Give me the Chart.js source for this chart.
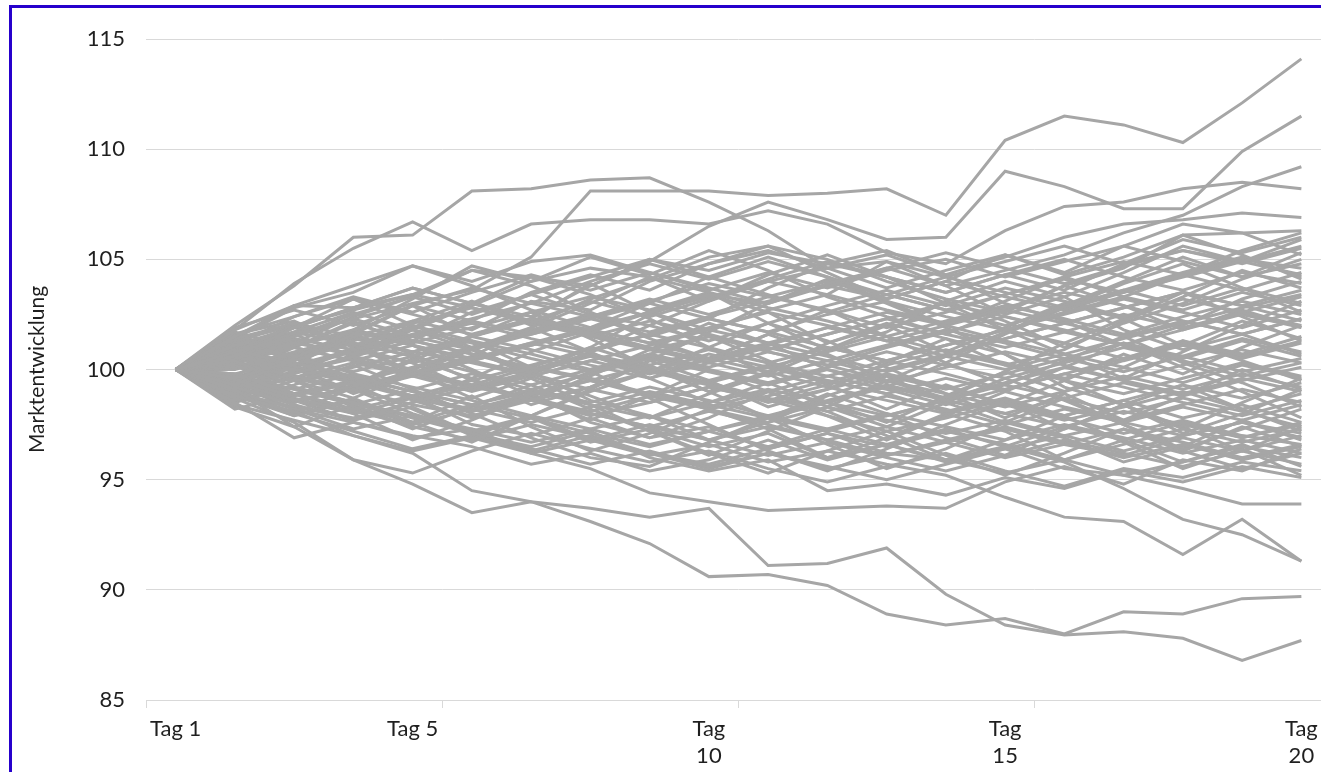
<!DOCTYPE html>
<html lang="de">
<head>
<meta charset="utf-8">
<title>Marktentwicklung</title>
<script src="https://cdn.jsdelivr.net/npm/chart.js@4"></script>
<style>
  html, body { margin: 0; padding: 0; overflow: hidden; background: #fff; }
  #wrap { position: relative; width: 1331px; height: 772px; }
  #rahmen { position: absolute; left: 9px; top: 5px; width: 2000px; height: 2000px;
            border-left: 3px solid #2600cc; border-top: 3px solid #2600cc; pointer-events: none; }
</style>
</head>
<body>
<div id="wrap">
  <canvas id="chart" width="1331" height="772"></canvas>
  <div id="rahmen"></div>
</div>
<script>
const tage = ['Tag 1', 'Tag 2', 'Tag 3', 'Tag 4', 'Tag 5', 'Tag 6', 'Tag 7', 'Tag 8', 'Tag 9', 'Tag 10',
              'Tag 11', 'Tag 12', 'Tag 13', 'Tag 14', 'Tag 15', 'Tag 16', 'Tag 17', 'Tag 18', 'Tag 19', 'Tag 20'];
// only these days get a label on the x axis
const beschriftet = [0, 4, 9, 14, 19];
const beschriftung = [['Tag 1'], ['Tag 5'], ['Tag', '10'], ['Tag', '15'], ['Tag', '20']];
const yMin = 85, yMax = 115, yStep = 5;

// outer paths
const pfad01 = [100, 100.8, 101.5, 102.3, 103.0, 103.6, 105.1, 108.1, 108.1, 108.1, 107.9, 108.0, 108.2, 107.0, 110.4, 111.5, 111.1, 110.3, 112.1, 114.1];
const pfad02 = [100, 102.0, 103.8, 106.0, 106.1, 108.1, 108.2, 108.6, 108.7, 107.6, 106.3, 104.6, 104.9, 104.2, 104.9, 105.6, 104.8, 105.9, 105.3, 106.0];
const pfad03 = [100, 101.8, 103.9, 105.5, 106.7, 105.4, 106.6, 106.8, 106.8, 106.6, 107.2, 106.6, 105.3, 104.8, 106.3, 107.4, 107.6, 108.2, 108.5, 108.2];
const pfad04 = [100, 100.6, 101.9, 102.8, 103.4, 104.5, 104.2, 103.8, 104.9, 106.5, 107.6, 106.8, 105.9, 106.0, 109.0, 108.3, 107.3, 107.3, 109.9, 111.5];
const pfad05 = [100, 99.6, 100.4, 101.2, 100.6, 101.5, 102.3, 101.8, 102.6, 103.4, 103.0, 103.9, 104.6, 103.8, 104.5, 105.2, 106.2, 107.0, 108.3, 109.2];
const pfad06 = [100, 100.9, 100.2, 101.6, 102.9, 102.2, 103.5, 104.3, 103.6, 104.8, 105.4, 104.6, 105.2, 104.3, 105.1, 106.0, 106.6, 106.8, 107.1, 106.9];
const pfad07 = [100, 99.3, 100.5, 101.8, 103.2, 104.7, 104.0, 104.6, 104.2, 103.1, 104.0, 104.6, 103.7, 104.5, 105.2, 104.4, 105.6, 106.6, 106.2, 106.3];
const pfad08 = [100, 101.5, 102.9, 102.8, 103.7, 103.0, 102.4, 103.8, 105.0, 104.5, 105.3, 104.8, 104.2, 103.5, 104.3, 103.6, 104.8, 105.4, 104.9, 105.6];
const pfad09 = [100, 101.1, 101.9, 103.2, 102.5, 101.8, 103.1, 102.7, 104.0, 104.8, 105.6, 105.0, 104.0, 103.2, 102.6, 103.8, 104.6, 106.1, 106.2, 105.2];
const pfad10 = [100, 99.1, 97.4, 95.9, 94.8, 93.5, 94.0, 93.1, 92.1, 90.6, 90.7, 90.2, 88.9, 88.4, 88.7, 88.0, 89.0, 88.9, 89.6, 89.7];
const pfad11 = [100, 98.8, 98.1, 97.0, 96.2, 94.5, 94.0, 93.7, 93.3, 93.7, 91.1, 91.2, 91.9, 89.8, 88.4, 87.95, 88.1, 87.8, 86.8, 87.7];
const pfad12 = [100, 99.0, 98.2, 97.6, 96.9, 97.3, 96.2, 95.5, 94.4, 94.0, 93.6, 93.7, 93.8, 93.7, 94.9, 95.6, 94.8, 95.9, 95.4, 96.4];
const pfad13 = [100, 99.4, 98.6, 99.1, 98.0, 97.2, 97.9, 96.8, 96.1, 96.6, 95.8, 96.3, 95.7, 95.2, 94.2, 93.3, 93.1, 91.6, 93.2, 91.3];
const pfad14 = [100, 99.8, 98.9, 98.2, 98.8, 97.5, 97.0, 97.8, 96.9, 97.4, 96.4, 97.1, 96.2, 95.9, 96.5, 95.8, 94.6, 93.2, 92.5, 91.3];
const pfad15 = [100, 100.4, 99.2, 98.5, 97.6, 98.4, 97.8, 96.7, 97.3, 96.5, 97.1, 96.0, 96.6, 95.8, 96.4, 95.5, 95.2, 94.6, 93.9, 93.9];
const pfad16 = [100, 98.5, 96.9, 97.6, 97.0, 96.5, 95.7, 96.2, 95.4, 95.9, 96.8, 95.9, 96.6, 97.3, 96.5, 97.4, 96.8, 97.6, 96.9, 97.5];
const pfad17 = [100, 98.7, 97.6, 95.9, 95.3, 96.3, 97.1, 96.4, 95.8, 96.3, 95.5, 94.9, 95.6, 96.2, 95.4, 94.7, 95.5, 95.1, 95.8, 95.4];
const pfad18 = [100, 99.2, 98.4, 97.7, 98.3, 97.1, 96.5, 97.2, 96.0, 95.4, 95.9, 94.5, 94.8, 94.3, 95.1, 94.6, 95.4, 94.9, 95.6, 95.1];

// paths inside the main band
const pfad19 = [100, 100.5, 101.2, 100.7, 101.5, 102.1, 101.4, 100.8, 101.6, 102.3, 101.7, 102.5, 103.1, 102.4, 101.8, 102.6, 103.3, 102.7, 103.5, 102.9];
const pfad20 = [100, 99.5, 98.8, 99.4, 98.7, 99.3, 100.1, 99.6, 98.9, 98.2, 98.8, 99.5, 98.9, 98.1, 98.7, 97.9, 98.6, 97.8, 98.4, 97.6];
const pfad21 = [100, 100.9, 101.6, 102.3, 101.5, 100.9, 101.7, 102.4, 103.2, 102.5, 103.3, 102.7, 101.9, 102.6, 103.4, 104.1, 103.5, 104.3, 103.6, 104.4];
const pfad22 = [100, 99.2, 99.8, 100.6, 100.0, 99.3, 98.6, 99.2, 99.9, 100.7, 100.1, 99.4, 100.2, 100.9, 100.3, 99.6, 100.4, 101.1, 100.5, 101.2];
const pfad23 = [100, 100.3, 99.7, 99.1, 99.8, 100.5, 101.2, 100.6, 99.9, 99.3, 98.5, 99.1, 99.8, 99.2, 98.4, 97.7, 98.3, 99.0, 98.2, 98.9];
const pfad24 = [100, 101.2, 100.6, 101.3, 102.1, 102.8, 102.2, 101.6, 100.9, 101.5, 100.8, 100.2, 101.0, 101.7, 102.4, 101.8, 101.1, 100.5, 101.3, 100.6];
const pfad25 = [100, 98.9, 98.3, 97.8, 98.5, 99.2, 98.7, 98.0, 97.4, 98.1, 97.5, 96.8, 97.4, 96.7, 97.3, 96.6, 96.1, 96.9, 96.3, 97.0];
const pfad26 = [100, 100.7, 101.4, 100.9, 100.3, 101.0, 101.8, 102.5, 102.0, 101.3, 102.1, 102.9, 103.6, 102.9, 103.7, 103.1, 102.4, 103.2, 102.6, 103.3];
const pfad27 = [100, 99.6, 100.3, 99.7, 99.0, 98.4, 99.1, 99.8, 100.5, 99.9, 99.3, 100.0, 99.4, 100.1, 100.8, 100.2, 99.5, 98.9, 99.6, 99.0];
const pfad28 = [100, 100.2, 99.5, 100.1, 100.8, 100.3, 99.7, 100.4, 101.1, 101.8, 101.2, 100.6, 99.9, 100.6, 101.4, 102.1, 101.5, 102.2, 101.6, 102.3];
const pfad29 = [100, 99.0, 99.7, 99.1, 98.4, 97.9, 98.6, 97.9, 98.5, 99.2, 98.6, 97.9, 97.2, 97.8, 98.5, 97.8, 97.1, 97.7, 97.0, 96.6];
const pfad30 = [100, 101.0, 101.7, 101.1, 101.8, 101.2, 100.5, 99.9, 100.6, 100.0, 99.4, 100.1, 100.8, 100.2, 99.6, 100.3, 101.0, 100.4, 99.7, 100.3];
const pfad31 = [100, 100.6, 100.0, 99.4, 100.1, 100.9, 101.6, 102.3, 101.7, 102.4, 103.1, 103.8, 103.2, 104.0, 103.3, 102.7, 103.5, 104.2, 104.9, 104.3];
const pfad32 = [100, 99.4, 98.7, 98.1, 97.5, 98.2, 98.9, 99.5, 98.9, 98.3, 99.0, 99.7, 99.1, 98.4, 99.1, 99.8, 99.2, 98.5, 97.9, 98.6];
const pfad33 = [100, 100.1, 100.8, 101.5, 102.2, 101.6, 102.3, 101.7, 101.0, 100.4, 101.1, 101.9, 101.3, 100.6, 100.0, 100.7, 100.1, 99.4, 100.2, 99.6];
const pfad34 = [100, 99.7, 99.1, 99.8, 99.2, 98.6, 97.9, 97.3, 97.9, 97.2, 97.8, 98.5, 99.2, 98.6, 98.0, 98.7, 99.4, 98.8, 99.5, 100.1];
const pfad35 = [100, 101.4, 102.1, 101.5, 100.8, 101.5, 100.9, 100.2, 99.6, 100.3, 101.0, 100.4, 99.7, 99.1, 99.8, 100.5, 99.9, 100.6, 101.4, 100.8];
const pfad36 = [100, 100.4, 101.1, 101.8, 101.2, 101.9, 102.6, 103.3, 102.7, 103.5, 102.8, 102.2, 101.5, 102.2, 102.9, 102.3, 101.6, 102.4, 103.1, 102.5];
const pfad37 = [100, 99.3, 99.9, 100.6, 101.3, 100.7, 100.1, 99.5, 98.8, 98.2, 97.6, 98.3, 97.7, 97.1, 97.7, 97.0, 97.6, 98.3, 97.7, 98.4];
const pfad38 = [100, 99.8, 100.5, 99.9, 100.6, 101.3, 100.7, 100.0, 100.7, 101.5, 100.9, 101.6, 102.3, 101.6, 101.0, 101.7, 102.5, 101.9, 102.6, 102.0];
const pfad39 = [100, 98.6, 99.2, 98.5, 97.9, 97.3, 96.7, 97.3, 96.6, 97.2, 97.9, 97.3, 98.0, 97.4, 96.8, 97.5, 96.9, 96.2, 96.8, 96.2];
const pfad40 = [100, 100.8, 100.1, 99.5, 98.8, 99.5, 100.2, 100.9, 101.6, 101.0, 100.3, 99.7, 100.4, 99.8, 99.1, 99.8, 100.5, 101.2, 100.6, 101.3];
const pfad41 = [100, 101.7, 101.0, 100.4, 101.1, 100.5, 101.2, 101.9, 102.6, 103.3, 104.0, 103.4, 102.7, 102.1, 102.8, 103.5, 102.9, 102.2, 101.6, 102.3];
const pfad42 = [100, 99.1, 98.5, 99.2, 99.9, 99.3, 98.7, 98.1, 98.8, 99.5, 100.2, 99.5, 98.9, 99.6, 99.0, 98.3, 97.7, 98.4, 99.1, 98.5];
const pfad43 = [100, 100.5, 99.9, 100.5, 99.8, 99.2, 99.9, 100.6, 100.0, 99.4, 98.7, 98.1, 98.8, 98.2, 97.5, 98.2, 97.6, 97.0, 97.6, 97.1];
const pfad44 = [100, 100.0, 100.7, 101.4, 100.8, 101.5, 102.2, 101.5, 100.9, 100.3, 99.7, 100.4, 101.1, 101.8, 101.2, 100.5, 101.2, 100.6, 99.9, 100.5];
const pfad45 = [100, 99.5, 100.2, 100.9, 101.6, 102.3, 103.0, 102.4, 103.1, 103.9, 103.3, 104.0, 103.4, 102.7, 103.4, 104.2, 104.9, 104.3, 105.0, 104.6];
const pfad46 = [100, 100.9, 100.3, 99.6, 99.0, 98.4, 99.0, 98.4, 97.8, 98.5, 99.1, 98.5, 97.9, 98.6, 99.3, 98.7, 98.0, 98.7, 98.1, 97.4];
const pfad47 = [100, 99.2, 98.6, 98.0, 98.7, 98.1, 98.8, 99.5, 100.2, 100.9, 100.3, 101.0, 100.4, 101.1, 101.8, 101.2, 100.5, 101.3, 100.7, 101.5];
const pfad48 = [100, 100.6, 101.3, 100.6, 101.3, 100.7, 100.0, 100.7, 100.1, 99.4, 100.1, 100.8, 101.5, 100.8, 100.2, 99.5, 98.9, 99.6, 100.3, 99.7];
const pfad49 = [100, 99.6, 98.9, 99.5, 98.8, 98.1, 98.7, 98.0, 97.4, 96.8, 97.4, 96.8, 96.1, 96.7, 96.0, 96.6, 97.3, 96.7, 96.0, 96.6];
const pfad50 = [100, 101.3, 102.0, 102.7, 103.4, 102.8, 102.1, 101.5, 102.2, 101.6, 100.9, 101.6, 102.3, 103.0, 102.4, 101.7, 101.1, 101.8, 102.5, 101.9];
const pfad51 = [100, 100.3, 101.0, 100.4, 99.7, 100.4, 99.8, 99.1, 98.5, 99.2, 98.6, 99.3, 100.0, 100.7, 101.4, 102.1, 102.8, 103.5, 102.9, 103.6];
const pfad52 = [100, 99.0, 99.6, 100.3, 99.7, 99.0, 99.7, 100.4, 99.8, 100.5, 99.9, 99.2, 98.6, 98.0, 98.6, 97.9, 98.6, 99.3, 98.7, 99.4];
const pfad53 = [100, 100.7, 100.1, 100.8, 101.5, 102.2, 101.6, 102.3, 103.0, 102.3, 101.7, 101.0, 100.4, 101.1, 101.8, 102.5, 103.2, 102.6, 101.9, 102.7];
const pfad54 = [100, 99.4, 100.1, 99.5, 98.8, 98.2, 97.6, 98.3, 99.0, 98.4, 97.8, 97.2, 97.9, 98.6, 98.0, 97.4, 98.1, 97.5, 96.9, 97.6];
const pfad55 = [100, 100.2, 99.6, 99.0, 99.7, 100.4, 101.1, 101.8, 101.2, 100.5, 101.2, 101.9, 102.6, 102.0, 101.3, 100.7, 101.4, 102.1, 102.8, 103.4];
const pfad56 = [100, 101.1, 100.5, 101.2, 100.6, 99.9, 99.3, 100.0, 100.7, 100.1, 100.8, 100.2, 99.5, 98.9, 98.3, 99.0, 99.7, 99.1, 99.8, 99.2];
const pfad57 = [100, 99.7, 99.1, 98.4, 99.1, 99.8, 99.1, 98.5, 99.2, 98.6, 97.9, 98.6, 99.3, 98.7, 99.4, 100.1, 99.5, 100.2, 100.9, 100.3];
const pfad58 = [100, 100.4, 101.1, 101.7, 101.1, 100.4, 101.1, 101.8, 101.2, 101.9, 102.6, 102.0, 101.3, 102.0, 102.7, 102.1, 102.8, 103.5, 102.9, 102.2];
const pfad59 = [100, 101.6, 102.4, 103.3, 102.6, 103.5, 104.3, 103.6, 104.4, 103.7, 103.0, 103.8, 104.6, 105.3, 104.6, 103.9, 104.7, 105.4, 104.8, 105.5];
const pfad60 = [100, 98.4, 97.7, 97.0, 96.3, 96.9, 96.2, 96.8, 97.5, 96.8, 96.1, 96.7, 96.0, 95.4, 96.1, 96.8, 96.2, 95.6, 96.3, 95.7];
const pfad61 = [100, 101.9, 102.7, 102.0, 102.9, 103.7, 103.0, 104.0, 104.8, 104.1, 104.9, 104.2, 103.4, 104.2, 103.5, 102.8, 103.6, 104.4, 105.1, 104.2];
const pfad62 = [100, 98.2, 98.9, 98.2, 97.4, 96.8, 97.5, 96.9, 96.2, 95.7, 96.4, 97.1, 96.5, 97.2, 96.6, 95.9, 96.6, 97.3, 96.7, 97.3];
const pfad63 = [100, 100.8, 101.9, 102.8, 103.7, 103.0, 102.2, 103.1, 102.4, 103.2, 104.1, 104.9, 104.2, 103.5, 104.3, 105.0, 104.2, 103.6, 104.4, 103.9];
const pfad64 = [100, 99.3, 98.2, 97.3, 97.9, 97.1, 96.4, 95.7, 96.3, 95.6, 96.2, 95.5, 96.1, 96.8, 97.4, 96.7, 96.0, 96.6, 95.9, 96.5];
const pfad65 = [100, 101.4, 102.8, 103.5, 104.7, 104.0, 104.9, 105.2, 104.4, 103.6, 104.4, 103.7, 104.5, 105.0, 104.2, 104.9, 105.6, 104.9, 104.2, 104.8];
const pfad66 = [100, 98.8, 97.9, 98.6, 97.8, 97.1, 97.8, 97.1, 96.5, 97.2, 96.5, 97.3, 96.6, 95.9, 95.3, 95.9, 95.2, 95.8, 96.5, 96.0];
const pfad67 = [100, 100.6, 101.5, 102.5, 103.3, 102.5, 103.4, 104.2, 105.0, 104.2, 103.4, 102.6, 103.4, 102.7, 102.0, 102.8, 103.6, 102.9, 103.7, 103.0];
const pfad68 = [100, 99.0, 98.0, 97.2, 96.4, 97.0, 96.3, 97.0, 96.2, 95.5, 96.2, 95.6, 95.0, 95.7, 96.4, 97.0, 96.3, 97.0, 97.6, 96.9];
const pfad69 = [100, 100.4, 99.6, 100.7, 101.9, 103.0, 104.2, 103.4, 102.3, 101.0, 99.8, 98.5, 97.6, 98.8, 99.9, 101.2, 102.3, 103.5, 102.4, 101.3];
const pfad70 = [100, 99.5, 100.6, 99.3, 98.2, 97.0, 97.9, 99.1, 100.4, 101.7, 103.0, 104.1, 103.0, 101.9, 100.7, 99.5, 98.4, 97.3, 98.5, 99.6];
const pfad71 = [100, 100.9, 102.0, 101.1, 99.9, 98.7, 99.6, 98.4, 97.2, 96.1, 97.2, 98.3, 99.5, 100.6, 101.7, 102.9, 104.0, 105.1, 104.2, 105.3];
const pfad72 = [100, 99.1, 98.0, 99.2, 100.4, 101.5, 102.6, 101.4, 100.1, 99.0, 97.8, 96.6, 95.5, 96.4, 97.6, 98.7, 97.5, 96.3, 97.4, 96.5];
const pfad73 = [100, 101.0, 99.9, 100.9, 102.0, 101.0, 99.8, 100.8, 102.0, 103.1, 104.3, 105.2, 104.2, 103.0, 101.8, 100.7, 99.6, 100.8, 102.0, 103.1];
const pfad74 = [100, 99.7, 101.0, 102.2, 101.1, 100.0, 98.8, 97.7, 98.8, 100.0, 99.0, 97.9, 96.8, 97.9, 99.0, 100.1, 101.2, 100.1, 99.0, 97.8];
const pfad75 = [100, 101.3, 100.4, 101.7, 102.9, 101.5, 102.3, 103.9, 102.6, 101.8, 102.7, 103.4, 104.9, 103.8, 102.5, 103.3, 104.4, 105.6, 104.9, 105.9];
const pfad76 = [100, 98.7, 99.5, 98.3, 97.6, 98.8, 97.4, 96.3, 97.1, 98.2, 97.3, 96.0, 96.9, 98.0, 97.2, 95.9, 96.8, 95.8, 96.6, 95.6];
const pfad77 = [100, 100.8, 101.9, 101.1, 99.8, 100.6, 101.9, 103.0, 104.2, 103.5, 102.1, 100.9, 101.7, 103.1, 104.0, 103.3, 101.8, 100.9, 101.6, 100.7];
const pfad78 = [100, 99.4, 98.5, 99.3, 100.5, 99.6, 98.4, 99.2, 100.4, 99.5, 98.3, 99.1, 100.3, 101.4, 100.7, 99.2, 98.4, 97.1, 98.0, 99.1];
const pfad79 = [100, 101.1, 102.4, 103.2, 102.0, 101.3, 100.1, 101.0, 102.5, 103.4, 102.6, 101.2, 102.1, 101.4, 100.2, 100.9, 102.2, 103.3, 104.5, 103.7];
const pfad80 = [100, 98.9, 97.9, 98.7, 99.8, 100.9, 99.9, 98.6, 97.9, 96.8, 97.6, 98.8, 99.7, 98.5, 97.6, 96.9, 95.8, 96.5, 97.7, 96.8];
const pfad81 = [100, 100.3, 101.2, 102.4, 103.3, 104.5, 103.8, 102.6, 101.5, 102.3, 103.7, 104.8, 105.4, 104.3, 103.0, 102.2, 101.1, 102.0, 103.2, 104.0];
const pfad82 = [100, 99.6, 100.7, 99.8, 98.6, 97.8, 98.9, 97.6, 96.9, 97.8, 99.0, 98.1, 97.0, 95.9, 96.8, 97.9, 96.7, 95.5, 96.4, 95.2];
const pfad83 = [100, 101.6, 102.2, 101.0, 100.3, 99.1, 99.8, 101.0, 100.2, 99.0, 99.9, 101.2, 102.0, 100.8, 101.9, 103.0, 102.3, 101.1, 102.2, 101.4];
const pfad84 = [100, 99.0, 99.9, 101.0, 102.2, 103.1, 102.0, 103.2, 104.1, 105.1, 105.6, 104.4, 103.2, 104.0, 105.2, 104.3, 105.1, 106.1, 105.2, 104.1];
const pfad85 = [100, 100.2, 98.9, 98.0, 96.8, 97.7, 98.8, 99.9, 98.7, 97.5, 96.3, 95.4, 96.4, 97.5, 98.5, 97.3, 98.4, 99.3, 98.2, 97.2];
const pfad86 = [100, 101.0, 100.1, 98.9, 99.8, 101.0, 101.9, 100.8, 99.6, 100.5, 101.6, 102.7, 101.5, 100.3, 99.3, 100.4, 101.5, 100.3, 99.4, 98.3];
const pfad87 = [100, 99.3, 100.4, 101.6, 100.7, 99.5, 98.6, 99.7, 100.9, 102.1, 101.2, 100.0, 99.2, 100.3, 101.6, 102.8, 103.9, 104.8, 103.7, 102.6];
const pfad88 = [100, 100.6, 99.5, 98.7, 97.6, 96.7, 97.9, 99.0, 99.9, 101.0, 102.1, 101.3, 100.1, 98.9, 97.8, 98.9, 97.7, 98.8, 100.0, 99.1];
const pfad89 = [100, 101.4, 101.0, 102.1, 101.3, 102.6, 103.4, 102.5, 101.4, 100.5, 101.6, 100.7, 99.5, 98.7, 99.9, 99.0, 100.1, 101.3, 100.4, 99.5];
const pfad90 = [100, 98.5, 99.3, 100.2, 99.1, 98.0, 96.9, 96.0, 95.6, 96.7, 97.8, 98.9, 98.0, 96.9, 96.1, 97.3, 98.4, 97.4, 96.3, 97.4];
const pfad91 = [100, 100.9, 101.7, 102.6, 101.8, 102.9, 104.0, 105.1, 104.3, 105.4, 104.5, 103.3, 102.4, 101.6, 102.7, 103.8, 102.9, 101.8, 102.7, 101.9];
const pfad92 = [100, 99.8, 98.6, 97.7, 98.5, 99.6, 100.8, 101.7, 102.6, 101.5, 100.4, 99.3, 98.2, 99.3, 98.4, 99.5, 100.7, 99.8, 101.0, 102.0];
const pfad93 = [100, 100.5, 101.6, 100.6, 101.8, 100.9, 99.7, 98.8, 97.8, 98.9, 99.8, 100.9, 102.0, 103.1, 102.2, 101.0, 102.1, 103.0, 104.1, 105.0];
const pfad94 = [100, 99.2, 100.1, 99.0, 100.0, 100.9, 99.8, 100.7, 99.6, 98.5, 99.4, 98.3, 97.4, 98.5, 99.6, 98.6, 97.5, 96.4, 97.3, 98.2];
const pfad95 = [100, 101.8, 102.9, 103.8, 104.7, 103.8, 102.7, 101.9, 103.0, 104.2, 105.1, 104.2, 103.1, 102.0, 103.1, 104.2, 103.3, 104.3, 105.4, 106.2];
const pfad96 = [100, 98.3, 97.4, 98.4, 97.3, 98.3, 99.3, 98.2, 97.2, 96.2, 95.3, 96.3, 97.2, 96.1, 95.2, 96.2, 97.3, 96.3, 95.5, 96.2];

const pfade = [
    pfad01, pfad02, pfad03, pfad04, pfad05, pfad06, pfad07, pfad08, pfad09, pfad10,
    pfad11, pfad12, pfad13, pfad14, pfad15, pfad16, pfad17, pfad18, pfad19, pfad20,
    pfad21, pfad22, pfad23, pfad24, pfad25, pfad26, pfad27, pfad28, pfad29, pfad30,
    pfad31, pfad32, pfad33, pfad34, pfad35, pfad36, pfad37, pfad38, pfad39, pfad40,
    pfad41, pfad42, pfad43, pfad44, pfad45, pfad46, pfad47, pfad48, pfad49, pfad50,
    pfad51, pfad52, pfad53, pfad54, pfad55, pfad56, pfad57, pfad58, pfad59, pfad60,
    pfad61, pfad62, pfad63, pfad64, pfad65, pfad66, pfad67, pfad68, pfad69, pfad70,
    pfad71, pfad72, pfad73, pfad74, pfad75, pfad76, pfad77, pfad78, pfad79, pfad80,
    pfad81, pfad82, pfad83, pfad84, pfad85, pfad86, pfad87, pfad88, pfad89, pfad90,
    pfad91, pfad92, pfad93, pfad94, pfad95, pfad96
];

document.addEventListener('DOMContentLoaded', () => {
    const textFarbe = '#1f1f1f';
    const gitterFarbe = '#d9d9d9';
    const linienFarbe = '#a6a6a6';

    const datasets = pfade.map((werte, i) => ({
        label: 'Pfad ' + (i + 1),
        data: werte,
        borderColor: linienFarbe,
        borderWidth: 3,
        pointRadius: 0,
        tension: 0,
        fill: false
    }));

    const ctx = document.getElementById('chart').getContext('2d');
    new Chart(ctx, {
        type: 'line',
        data: { labels: tage, datasets: datasets },
        options: {
            responsive: false,
            animation: false,
            // top padding puts the 115 gridline where the reference has it
            layout: { padding: { top: 39 } },
            plugins: {
                legend: { display: false },
                tooltip: { enabled: false }
            },
            scales: {
                x: {
                    offset: true,
                    border: { display: false },
                    grid: {
                        offset: true,
                        drawOnChartArea: false,
                        drawTicks: true,
                        tickLength: 8,
                        color: (c) => (c.index % 5 === 0 ? gitterFarbe : 'rgba(0,0,0,0)')
                    },
                    ticks: {
                        autoSkip: false,
                        maxRotation: 0,
                        padding: 8,
                        color: textFarbe,
                        font: { family: 'Lato', size: 22 },
                        callback: (value, index) => {
                            const pos = beschriftet.indexOf(index);
                            return pos >= 0 ? beschriftung[pos] : '';
                        }
                    },
                    afterFit: (scale) => { scale.height = 72; }
                },
                y: {
                    min: yMin,
                    max: yMax,
                    border: { display: false },
                    grid: { color: gitterFarbe, lineWidth: 1, drawTicks: false },
                    ticks: {
                        stepSize: yStep,
                        padding: 21,
                        color: textFarbe,
                        font: { family: 'Lato', size: 22 }
                    },
                    title: {
                        display: true,
                        text: 'Marktentwicklung',
                        color: textFarbe,
                        font: { family: 'Lato', size: 21 },
                        padding: { top: 25, bottom: 0 }
                    },
                    afterFit: (scale) => { scale.width = 146; }
                }
            }
        }
    });
});
</script>
</body>
</html>
